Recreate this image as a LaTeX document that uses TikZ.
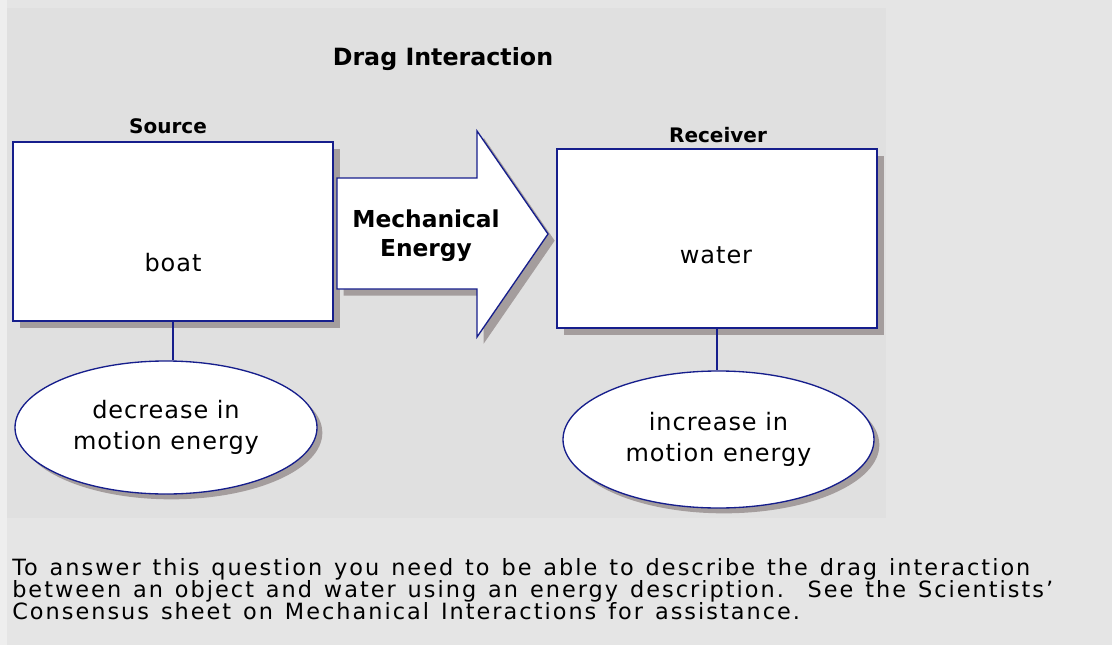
\documentclass[tikz,border=0pt]{standalone}
\usepackage{fontspec}
\setmainfont{DejaVu Sans}
\newfontfamily\widefont[LetterSpace=4]{DejaVu Sans}
\newfontfamily\bodyfont[LetterSpace=9, WordSpace=1.3]{DejaVu Sans}
\usetikzlibrary{shapes.geometric, shadows}
\definecolor{pagegray}{RGB}{229,229,229}
\definecolor{stripgray}{RGB}{238,238,238}
\definecolor{panelgray}{RGB}{224,224,224}
\definecolor{navyline}{RGB}{22,30,140}
\definecolor{shadowgray}{RGB}{164,157,157}
\tikzset{
  boxshadow/.style={
    drop shadow={shadow xshift=5pt, shadow yshift=-5pt, fill=shadowgray, opacity=1}},
  thing/.style={
    rectangle,
    draw=navyline, line width=1pt,
    fill=white,
    boxshadow,
    minimum width=240pt,
    minimum height=134.25pt,
    inner sep=0pt},
  change/.style={
    ellipse,
    draw=navyline, line width=1pt,
    fill=white,
    drop shadow={shadow xshift=4pt, shadow yshift=-4pt, fill=shadowgray, opacity=1},
    align=center,
    inner sep=0pt,
    font=\widefont\fontsize{18}{23.25}\selectfont},
  role/.style={anchor=base, font=\bfseries\fontsize{15}{18}\selectfont},
  thingtext/.style={anchor=base, font=\widefont\fontsize{18}{21}\selectfont},
  link/.style={draw=navyline, line width=1pt},
}

\begin{document}
\begin{tikzpicture}[x=0.75pt, y=-0.75pt]
  \useasboundingbox (0,0) rectangle (1112,645);
  \fill[pagegray] (0,0) rectangle (1112,645);
  \fill[stripgray] (0,0) rectangle (7,645);
  \fill[panelgray] (7,8) rectangle (886,518);

  \node[anchor=base, font=\bfseries\fontsize{17.8}{21}\selectfont] (title) at (443,66) {Drag Interaction};

  \node[role] (sourcelabel) at (168,134) {Source};
  \node[role] (receiverlabel) at (718,143) {Receiver};

  \node[thing] (sourcebox) at (173,231.5) {};
  \node[thing] (receiverbox) at (717,238.5) {};
  \node[thingtext] (boat) at (173,271) {boat};
  \node[thingtext] (water) at (716,263) {water};

  \path[draw=navyline, fill=white, line width=1pt, boxshadow]
    (337,178) -- (477,178) -- (477,131) -- (548,234) -- (477,337) -- (477,289) -- (337,289) -- cycle;
  \node[align=center, font=\bfseries\fontsize{17.5}{21.75}\selectfont] (energy) at (426,236) {Mechanical\\Energy};

  \node[change, minimum width=226.5pt, minimum height=99.75pt] (sourcechange) at (166,427.5) {decrease in\\motion energy};
  \node[change, minimum width=233.25pt, minimum height=102.75pt] (receiverchange) at (718.5,439.5) {increase in\\motion energy};

  \draw[link] (sourcebox.south) -- (sourcebox.south |- sourcechange.north);
  \draw[link] (receiverbox.south) -- (receiverbox.south |- receiverchange.north);

  \node[anchor=north west, inner sep=0pt, align=left, font=\bodyfont\fontsize{16.8}{16.5}\selectfont] (question) at (12,558)
    {To answer this question you need to be able to describe the drag interaction\\
     between an object and water using an energy description.\ \ See the Scientists’\\
     Consensus sheet on Mechanical Interactions for assistance.};
\end{tikzpicture}
\end{document}
